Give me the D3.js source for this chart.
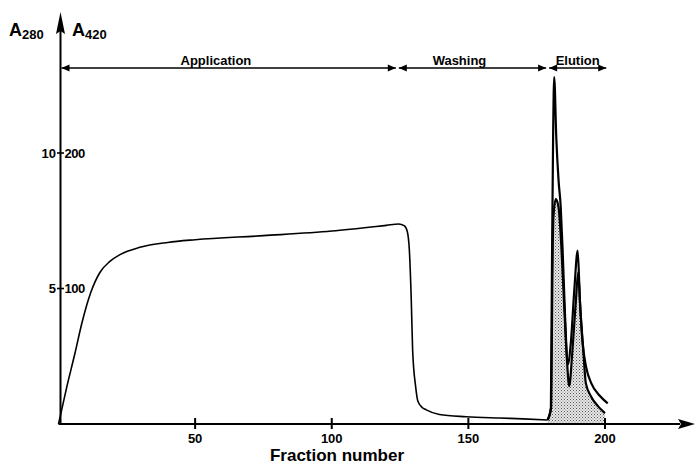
<!DOCTYPE html>
<html><head><meta charset="utf-8">
<script src="https://cdn.jsdelivr.net/npm/d3@7"></script>
<style>body{margin:0;background:#fff}svg{display:block}text{font-family:"Liberation Sans",Arial,sans-serif;font-weight:bold;fill:#000}</style>
</head><body>
<script>
// ---- data ----
const xTicks = [50, 100, 150, 200];
const yTicksLeft = [5, 10];
const yTicksRight = [100, 200];
const phaseNames = ["Application", "Washing", "Elution"];
const phaseStart = [0, 124, 179];
const phaseEnd = [124, 179, 201];

// outer curve (single curve during application/washing, tall spike at elution)
const curveAFraction = [0, 1, 3, 6, 8.5, 11.8, 15.2, 18.8, 22.5, 29.8, 40, 50, 75, 100, 120, 124.5, 126.5, 127.6, 128.4, 129.1, 129.6, 130.7, 131.5, 133, 134.6, 139.4, 149.2, 161.4, 170, 179,
  180.2, 180.6, 181.0, 181.4, 182.2, 183.0, 183.8, 184.5, 185.3, 186.4, 187.5, 188.8, 190.0, 190.8, 191.8, 193.1, 195, 198, 201];
const curveAValue = [0, 0.45, 1.35, 2.6, 3.7, 4.85, 5.6, 6.0, 6.25, 6.52, 6.7, 6.8, 6.95, 7.12, 7.33, 7.38, 7.32, 7.12, 6.42, 4.58, 2.73, 1.38, 0.85, 0.62, 0.52, 0.35, 0.27, 0.22, 0.19, 0.15,
  0.6, 6.0, 10.5, 12.8, 10.5, 9.0, 8.0, 6.4, 4.2, 2.2, 3.0, 5.0, 6.4, 4.6, 3.0, 2.1, 1.5, 1.05, 0.76];

// inner curve (shaded) during elution
const curveBFraction = [179, 180.3, 180.7, 181.1, 182.0, 183.0, 184.0, 185.0, 186.0, 186.9, 188.0, 189.3, 190.2, 191.0, 192.0, 193.0, 195.0, 197.5, 200];
const curveBValue = [0.15, 0.6, 5.0, 7.6, 8.3, 8.0, 6.6, 4.5, 2.5, 1.4, 2.6, 4.5, 5.6, 4.2, 2.8, 1.5, 1.0, 0.65, 0.4];

// ---- drawing ----
const W = 696, H = 466;
const svg = d3.select("body").append("svg").attr("width", W).attr("height", H);
const x = d3.scaleLinear().domain([0, 200]).range([58.5, 605]);
const y = d3.scaleLinear().domain([0, 10]).range([424, 153]);
const x0 = x(0), y0 = y(0);

const defs = svg.append("defs");
const pat = defs.append("pattern").attr("id", "stip").attr("width", 3).attr("height", 3).attr("patternUnits", "userSpaceOnUse");
pat.append("rect").attr("width", 3).attr("height", 3).attr("fill", "#e8e8e8");
pat.append("rect").attr("x", 0).attr("y", 0).attr("width", 1).attr("height", 1).attr("fill", "#555");
pat.append("rect").attr("x", 1.5).attr("y", 1.5).attr("width", 1).attr("height", 1).attr("fill", "#777");

const ptsA = curveAFraction.map((f, i) => [f, curveAValue[i]]);
const ptsB = curveBFraction.map((f, i) => [f, curveBValue[i]]);
const line = d3.line().x(d => x(d[0])).y(d => y(d[1])).curve(d3.curveMonotoneX);
const area = d3.area().x(d => x(d[0])).y0(y0).y1(d => y(d[1])).curve(d3.curveMonotoneX);

svg.append("path").attr("d", area(ptsB)).attr("fill", "url(#stip)");
svg.append("path").attr("d", line(ptsA.filter(d => d[0] <= 179))).attr("fill", "none").attr("stroke", "#000").attr("stroke-width", 1.6);
svg.append("path").attr("d", line(ptsA.filter(d => d[0] >= 179))).attr("fill", "none").attr("stroke", "#000").attr("stroke-width", 2.2).attr("stroke-linejoin", "round");
svg.append("path").attr("d", line(ptsB)).attr("fill", "none").attr("stroke", "#000").attr("stroke-width", 2.2).attr("stroke-linejoin", "round");

// axes
svg.append("line").attr("x1", x0).attr("y1", y0).attr("x2", 680).attr("y2", y0).attr("stroke", "#000").attr("stroke-width", 2);
svg.append("path").attr("d", `M695,${y0} L678,${y0 - 5} L681,${y0} L678,${y0 + 5} Z`).attr("fill", "#000");
svg.append("line").attr("x1", 60.5).attr("y1", y0).attr("x2", 60.5).attr("y2", 30).attr("stroke", "#000").attr("stroke-width", 2);
svg.append("path").attr("d", `M60.5,12 L65,34 L60.5,31 L56,34 Z`).attr("fill", "#000");

xTicks.forEach(t => {
  svg.append("line").attr("x1", x(t)).attr("x2", x(t)).attr("y1", y0 - 6).attr("y2", y0 + 5).attr("stroke", "#000").attr("stroke-width", 2);
  svg.append("text").attr("x", x(t)).attr("y", y0 + 19).attr("text-anchor", "middle").attr("font-size", 13).text(t);
});
yTicksLeft.forEach((t, i) => {
  svg.append("line").attr("x1", 57).attr("x2", 64).attr("y1", y(t)).attr("y2", y(t)).attr("stroke", "#000").attr("stroke-width", 1.6);
  svg.append("text").attr("x", 56).attr("y", y(t) + 4.5).attr("text-anchor", "end").attr("font-size", 13).text(t);
  svg.append("text").attr("x", 64.5).attr("y", y(t) + 4.5).attr("text-anchor", "start").attr("font-size", 13).attr("letter-spacing", -0.5).text(yTicksRight[i]);
});

svg.append("text").attr("x", 337).attr("y", 461).attr("text-anchor", "middle").attr("font-size", 17).text("Fraction number");

const lab1 = svg.append("text").attr("x", 9).attr("y", 36).attr("font-size", 18);
lab1.append("tspan").text("A");
lab1.append("tspan").attr("font-size", 13).attr("dy", 3).text("280");
const lab2 = svg.append("text").attr("x", 72).attr("y", 36).attr("font-size", 18);
lab2.append("tspan").text("A");
lab2.append("tspan").attr("font-size", 13).attr("dy", 3).text("420");

// phase arrows
const py = 68;
function head(xt, dir) {
  svg.append("path").attr("d", `M${xt},${py} L${xt - dir * 8},${py - 3.5} L${xt - dir * 8},${py + 3.5} Z`).attr("fill", "#000");
}
phaseNames.forEach((name, i) => {
  const a = x(phaseStart[i]) + (i === 0 ? 3 : 1.5), b = x(phaseEnd[i]) - 1.5;
  svg.append("line").attr("x1", a).attr("x2", b).attr("y1", py).attr("y2", py).attr("stroke", "#000").attr("stroke-width", 1.3);
  head(a, -1); head(b, 1);
  svg.append("text").attr("x", (x(phaseStart[i]) + x(phaseEnd[i])) / 2 + (i === 0 ? -12 : i === 1 ? -13 : 0)).attr("y", py - 3)
    .attr("text-anchor", "middle").attr("font-size", 13).text(name);
});
</script>
</body></html>
